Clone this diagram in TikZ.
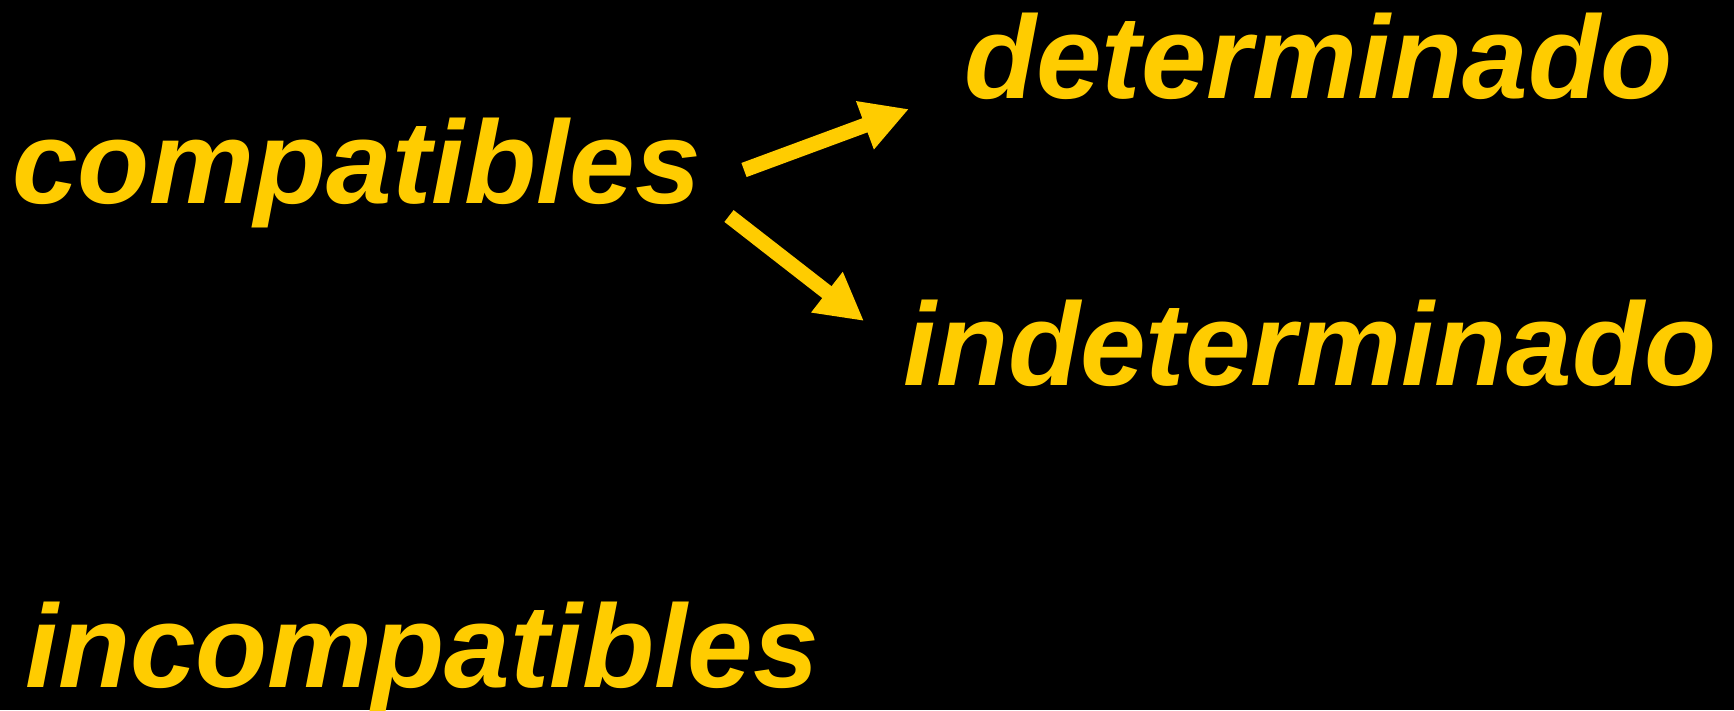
\documentclass[tikz,border=0pt]{standalone}
\usepackage{fontspec}
\setmainfont{Liberation Sans}
\usetikzlibrary{arrows.meta}
\definecolor{gold}{HTML}{FFCC00}
\begin{document}
\begin{tikzpicture}[x=1pt,y=-1pt,
  word/.style={anchor=base west,inner sep=0pt,text=gold,
    font=\fontsize{118}{140}\selectfont\bfseries\itshape},
  branch/.style={draw=gold,line width=15pt,
    -{Triangle[length=47pt,width=48pt]}}]
  % background
  \fill[black] (0,0) rectangle (1734,710);
  \useasboundingbox (0,0) rectangle (1734,710);
  % words
  \node[word] (comp)  at (12,203) {compatibles};
  \node[word] (det)   at (964,98) {determinado};
  \node[word] (indet) at (903,385) {indeterminado};
  \node[word] (incomp) at (25,687) {incompatibles};
  % arrow ends
  \coordinate (s1) at (744,170);
  \coordinate (t1) at (909,109);
  \coordinate (s2) at (729,216);
  \coordinate (t2) at (864,321);
  \draw[branch] (s1) -- (t1);
  \draw[branch] (s2) -- (t2);
\end{tikzpicture}
\end{document}
